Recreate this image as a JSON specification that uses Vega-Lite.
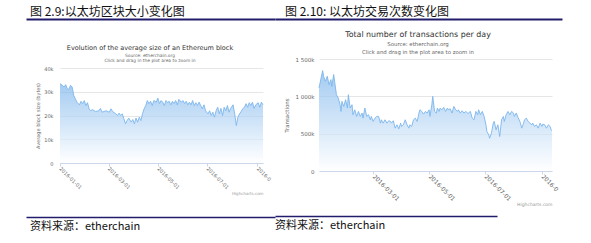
{
  "$schema": "https://vega.github.io/schema/vega-lite/v6.json",
  "background": "white",
  "padding": {"left": 26, "top": 6, "right": 0, "bottom": 0},
  "datasets": {
    "size": [
      {"date": "2016-01-01", "size": 33400}, {"date": "2016-01-04", "size": 32700}, {"date": "2016-01-06", "size": 32000}, {"date": "2016-01-08", "size": 33000},
      {"date": "2016-01-10", "size": 31300}, {"date": "2016-01-12", "size": 31000}, {"date": "2016-01-14", "size": 32700}, {"date": "2016-01-16", "size": 32000},
      {"date": "2016-01-18", "size": 28500}, {"date": "2016-01-20", "size": 27000}, {"date": "2016-01-22", "size": 25600}, {"date": "2016-01-25", "size": 24500},
      {"date": "2016-01-27", "size": 26000}, {"date": "2016-01-29", "size": 25000}, {"date": "2016-01-31", "size": 26300}, {"date": "2016-02-02", "size": 24200},
      {"date": "2016-02-04", "size": 25400}, {"date": "2016-02-06", "size": 22800}, {"date": "2016-02-08", "size": 22000}, {"date": "2016-02-10", "size": 22500},
      {"date": "2016-02-14", "size": 21700}, {"date": "2016-02-18", "size": 22000}, {"date": "2016-02-20", "size": 23000}, {"date": "2016-02-22", "size": 21400},
      {"date": "2016-02-27", "size": 22000}, {"date": "2016-03-02", "size": 21400}, {"date": "2016-03-04", "size": 22800}, {"date": "2016-03-06", "size": 21700},
      {"date": "2016-03-10", "size": 20700}, {"date": "2016-03-12", "size": 20000}, {"date": "2016-03-14", "size": 21000}, {"date": "2016-03-16", "size": 20000},
      {"date": "2016-03-18", "size": 20700}, {"date": "2016-03-20", "size": 18600}, {"date": "2016-03-22", "size": 16500}, {"date": "2016-03-24", "size": 17900},
      {"date": "2016-03-26", "size": 18900}, {"date": "2016-03-29", "size": 17200}, {"date": "2016-03-31", "size": 18300}, {"date": "2016-04-02", "size": 16500},
      {"date": "2016-04-04", "size": 18900}, {"date": "2016-04-06", "size": 17200}, {"date": "2016-04-08", "size": 19300}, {"date": "2016-04-10", "size": 17900},
      {"date": "2016-04-12", "size": 20700}, {"date": "2016-04-14", "size": 22800}, {"date": "2016-04-16", "size": 24200}, {"date": "2016-04-18", "size": 26300},
      {"date": "2016-04-20", "size": 25000}, {"date": "2016-04-22", "size": 26000}, {"date": "2016-04-24", "size": 24200}, {"date": "2016-04-26", "size": 26300},
      {"date": "2016-04-29", "size": 25600}, {"date": "2016-05-01", "size": 27300}, {"date": "2016-05-03", "size": 25000}, {"date": "2016-05-05", "size": 26300},
      {"date": "2016-05-07", "size": 25600}, {"date": "2016-05-09", "size": 24200}, {"date": "2016-05-11", "size": 26300}, {"date": "2016-05-13", "size": 25400},
      {"date": "2016-05-15", "size": 26000}, {"date": "2016-05-17", "size": 24500}, {"date": "2016-05-19", "size": 26000}, {"date": "2016-05-21", "size": 25000},
      {"date": "2016-05-23", "size": 26300}, {"date": "2016-05-25", "size": 24500}, {"date": "2016-05-27", "size": 26800}, {"date": "2016-05-30", "size": 25600},
      {"date": "2016-06-01", "size": 26300}, {"date": "2016-06-03", "size": 25000}, {"date": "2016-06-05", "size": 26000}, {"date": "2016-06-07", "size": 24500},
      {"date": "2016-06-09", "size": 25600}, {"date": "2016-06-11", "size": 24500}, {"date": "2016-06-13", "size": 26300}, {"date": "2016-06-15", "size": 24200},
      {"date": "2016-06-17", "size": 25400}, {"date": "2016-06-19", "size": 24200}, {"date": "2016-06-21", "size": 25600}, {"date": "2016-06-23", "size": 24200},
      {"date": "2016-06-25", "size": 22800}, {"date": "2016-06-27", "size": 24500}, {"date": "2016-06-29", "size": 22000}, {"date": "2016-07-02", "size": 20700},
      {"date": "2016-07-04", "size": 22000}, {"date": "2016-07-06", "size": 20000}, {"date": "2016-07-08", "size": 21400}, {"date": "2016-07-10", "size": 19300},
      {"date": "2016-07-12", "size": 22000}, {"date": "2016-07-14", "size": 23500}, {"date": "2016-07-16", "size": 20700}, {"date": "2016-07-18", "size": 23000},
      {"date": "2016-07-20", "size": 20000}, {"date": "2016-07-22", "size": 23500}, {"date": "2016-07-24", "size": 22000}, {"date": "2016-07-26", "size": 24200},
      {"date": "2016-07-28", "size": 21400}, {"date": "2016-07-30", "size": 23000}, {"date": "2016-08-02", "size": 24500}, {"date": "2016-08-04", "size": 20700},
      {"date": "2016-08-06", "size": 15800}, {"date": "2016-08-08", "size": 19300}, {"date": "2016-08-10", "size": 20700}, {"date": "2016-08-12", "size": 21700},
      {"date": "2016-08-14", "size": 22800}, {"date": "2016-08-16", "size": 23500}, {"date": "2016-08-18", "size": 25000}, {"date": "2016-08-20", "size": 23500},
      {"date": "2016-08-22", "size": 25400}, {"date": "2016-08-24", "size": 24200}, {"date": "2016-08-26", "size": 25600}, {"date": "2016-08-28", "size": 23000},
      {"date": "2016-08-30", "size": 24500}, {"date": "2016-09-02", "size": 25400}, {"date": "2016-09-04", "size": 23500}, {"date": "2016-09-06", "size": 25600},
      {"date": "2016-09-08", "size": 24500}
    ],
    "tx": [
      {"date": "2016-01-02", "tx": 1112000}, {"date": "2016-01-06", "tx": 1345000}, {"date": "2016-01-07", "tx": 1269000}, {"date": "2016-01-09", "tx": 1202000},
      {"date": "2016-01-11", "tx": 1269000}, {"date": "2016-01-13", "tx": 1157000}, {"date": "2016-01-15", "tx": 1224000}, {"date": "2016-01-16", "tx": 1134000},
      {"date": "2016-01-18", "tx": 1291000}, {"date": "2016-01-19", "tx": 1202000}, {"date": "2016-01-21", "tx": 1022000}, {"date": "2016-01-23", "tx": 977000},
      {"date": "2016-01-25", "tx": 888000}, {"date": "2016-01-26", "tx": 798000}, {"date": "2016-01-27", "tx": 933000}, {"date": "2016-01-29", "tx": 865000},
      {"date": "2016-01-31", "tx": 955000}, {"date": "2016-02-02", "tx": 843000}, {"date": "2016-02-03", "tx": 1022000}, {"date": "2016-02-05", "tx": 843000},
      {"date": "2016-02-07", "tx": 888000}, {"date": "2016-02-08", "tx": 753000}, {"date": "2016-02-10", "tx": 820000}, {"date": "2016-02-12", "tx": 731000},
      {"date": "2016-02-14", "tx": 798000}, {"date": "2016-02-16", "tx": 731000}, {"date": "2016-02-18", "tx": 776000}, {"date": "2016-02-19", "tx": 708000},
      {"date": "2016-02-21", "tx": 843000}, {"date": "2016-02-23", "tx": 731000}, {"date": "2016-02-25", "tx": 753000}, {"date": "2016-02-27", "tx": 686000},
      {"date": "2016-02-28", "tx": 731000}, {"date": "2016-03-01", "tx": 664000}, {"date": "2016-03-03", "tx": 708000}, {"date": "2016-03-05", "tx": 731000},
      {"date": "2016-03-07", "tx": 731000}, {"date": "2016-03-09", "tx": 641000}, {"date": "2016-03-10", "tx": 686000}, {"date": "2016-03-12", "tx": 641000},
      {"date": "2016-03-14", "tx": 686000}, {"date": "2016-03-16", "tx": 641000}, {"date": "2016-03-18", "tx": 673000}, {"date": "2016-03-20", "tx": 664000},
      {"date": "2016-03-21", "tx": 641000}, {"date": "2016-03-23", "tx": 673000}, {"date": "2016-03-25", "tx": 574000}, {"date": "2016-03-27", "tx": 619000},
      {"date": "2016-03-29", "tx": 565000}, {"date": "2016-03-31", "tx": 641000}, {"date": "2016-04-01", "tx": 596000}, {"date": "2016-04-03", "tx": 619000},
      {"date": "2016-04-05", "tx": 686000}, {"date": "2016-04-07", "tx": 619000}, {"date": "2016-04-09", "tx": 574000}, {"date": "2016-04-10", "tx": 619000},
      {"date": "2016-04-12", "tx": 596000}, {"date": "2016-04-14", "tx": 686000}, {"date": "2016-04-16", "tx": 708000}, {"date": "2016-04-18", "tx": 664000},
      {"date": "2016-04-20", "tx": 776000}, {"date": "2016-04-21", "tx": 820000}, {"date": "2016-04-23", "tx": 798000}, {"date": "2016-04-25", "tx": 762000},
      {"date": "2016-04-27", "tx": 798000}, {"date": "2016-04-29", "tx": 776000}, {"date": "2016-05-01", "tx": 820000}, {"date": "2016-05-02", "tx": 731000},
      {"date": "2016-05-04", "tx": 888000}, {"date": "2016-05-05", "tx": 1000000}, {"date": "2016-05-07", "tx": 798000}, {"date": "2016-05-09", "tx": 776000},
      {"date": "2016-05-10", "tx": 843000}, {"date": "2016-05-12", "tx": 798000}, {"date": "2016-05-13", "tx": 843000}, {"date": "2016-05-15", "tx": 820000},
      {"date": "2016-05-17", "tx": 852000}, {"date": "2016-05-19", "tx": 798000}, {"date": "2016-05-21", "tx": 843000}, {"date": "2016-05-22", "tx": 820000},
      {"date": "2016-05-24", "tx": 834000}, {"date": "2016-05-26", "tx": 776000}, {"date": "2016-05-28", "tx": 865000}, {"date": "2016-05-30", "tx": 820000},
      {"date": "2016-06-01", "tx": 798000}, {"date": "2016-06-02", "tx": 820000}, {"date": "2016-06-04", "tx": 776000}, {"date": "2016-06-06", "tx": 807000},
      {"date": "2016-06-08", "tx": 776000}, {"date": "2016-06-10", "tx": 798000}, {"date": "2016-06-12", "tx": 776000}, {"date": "2016-06-13", "tx": 776000},
      {"date": "2016-06-15", "tx": 798000}, {"date": "2016-06-17", "tx": 708000}, {"date": "2016-06-19", "tx": 686000}, {"date": "2016-06-21", "tx": 798000},
      {"date": "2016-06-23", "tx": 753000}, {"date": "2016-06-24", "tx": 820000}, {"date": "2016-06-26", "tx": 753000}, {"date": "2016-06-28", "tx": 798000},
      {"date": "2016-06-30", "tx": 731000}, {"date": "2016-07-02", "tx": 619000}, {"date": "2016-07-03", "tx": 529000}, {"date": "2016-07-05", "tx": 484000},
      {"date": "2016-07-06", "tx": 439000}, {"date": "2016-07-08", "tx": 507000}, {"date": "2016-07-10", "tx": 641000}, {"date": "2016-07-11", "tx": 664000},
      {"date": "2016-07-13", "tx": 552000}, {"date": "2016-07-15", "tx": 619000}, {"date": "2016-07-17", "tx": 462000}, {"date": "2016-07-19", "tx": 686000},
      {"date": "2016-07-21", "tx": 731000}, {"date": "2016-07-22", "tx": 664000}, {"date": "2016-07-24", "tx": 753000}, {"date": "2016-07-26", "tx": 798000},
      {"date": "2016-07-28", "tx": 753000}, {"date": "2016-07-30", "tx": 798000}, {"date": "2016-08-01", "tx": 776000}, {"date": "2016-08-02", "tx": 731000},
      {"date": "2016-08-04", "tx": 776000}, {"date": "2016-08-06", "tx": 717000}, {"date": "2016-08-08", "tx": 664000}, {"date": "2016-08-10", "tx": 574000},
      {"date": "2016-08-12", "tx": 641000}, {"date": "2016-08-13", "tx": 686000}, {"date": "2016-08-15", "tx": 708000}, {"date": "2016-08-17", "tx": 664000},
      {"date": "2016-08-19", "tx": 641000}, {"date": "2016-08-21", "tx": 619000}, {"date": "2016-08-22", "tx": 641000}, {"date": "2016-08-24", "tx": 596000},
      {"date": "2016-08-26", "tx": 619000}, {"date": "2016-08-28", "tx": 574000}, {"date": "2016-08-30", "tx": 641000}, {"date": "2016-09-01", "tx": 596000},
      {"date": "2016-09-02", "tx": 628000}, {"date": "2016-09-04", "tx": 619000}, {"date": "2016-09-06", "tx": 574000}, {"date": "2016-09-08", "tx": 619000},
      {"date": "2016-09-10", "tx": 596000}, {"date": "2016-09-11", "tx": 552000}, {"date": "2016-09-12", "tx": 540000}
    ]
  },
  "hconcat": [
    {
      "concat": [
        {
          "data": {"name": "size"},
          "width": 249, "height": 1,
          "mark": {"type": "point", "opacity": 0, "size": 0},
          "encoding": {"x": {"field": "date", "type": "temporal", "axis": {"orient": "top", "position": -34, "labels": false, "ticks": false, "grid": false, "domainColor": "#221d6b", "domainWidth": 2, "title": null}}},
          "title": {"text": "图 2.9:以太坊区块大小变化图", "anchor": "start", "frame": "group", "dx": -30, "offset": 0, "font": "Noto Sans CJK SC", "fontSize": 12, "fontWeight": "normal", "color": "#111111"}
        },
        {
          "concat": [
            {
              "data": {"name": "size"},
              "width": 203, "height": 95,
              "title": {
                "text": "Evolution of the average size of an Ethereum block",
                "subtitle": ["Source: etherchain.org", "Click and drag in the plot area to zoom in"],
                "anchor": "middle", "frame": "group", "dx": -11.5, "offset": 4,
                "font": "DejaVu Sans", "fontSize": 6.5, "fontWeight": "normal", "color": "#333333",
                "subtitleFont": "DejaVu Sans", "subtitleFontSize": 4.4, "subtitleColor": "#666666", "subtitleLineHeight": 4.6, "subtitlePadding": 3
              },
              "mark": {
                "type": "area",
                "line": {"color": "#7cb5ec", "strokeWidth": 0.9},
                "color": {"x1": 0, "y1": 0, "x2": 0, "y2": 1, "gradient": "linear", "stops": [{"offset": 0, "color": "#7cb5ec"}, {"offset": 1, "color": "#ffffff"}]}
              },
              "encoding": {
                "x": {
                  "field": "date", "type": "temporal",
                  "scale": {"type": "utc", "domain": [{"year": 2016, "month": 1, "date": 1, "utc": true}, {"year": 2016, "month": 9, "date": 8, "utc": true}]},
                  "axis": {
                    "values": [{"year": 2016, "month": 1, "date": 1, "utc": true}, {"year": 2016, "month": 3, "date": 1, "utc": true}, {"year": 2016, "month": 5, "date": 1, "utc": true}, {"year": 2016, "month": 7, "date": 1, "utc": true}, {"year": 2016, "month": 9, "date": 1, "utc": true}],
                    "labelExpr": "utcmonth(datum.value) == 8 ? '2016-0' : utcFormat(datum.value, '%Y-%m-%d')",
                    "labelAngle": 45, "labelAlign": "left", "labelBaseline": "middle", "labelFontSize": 5, "labelColor": "#666666", "labelPadding": 1, "labelFont": "DejaVu Sans",
                    "tickSize": 3, "tickColor": "#ccd6eb", "domainColor": "#ccd6eb", "grid": false,
                    "title": "Highcharts.com", "titleFontSize": 4, "titleFont": "DejaVu Sans", "titleFontWeight": "normal", "titleColor": "#999999", "titleAnchor": "end", "titleY": 28, "titleBaseline": "top"
                  }
                },
                "y": {
                  "field": "size", "type": "quantitative",
                  "scale": {"domain": [0, 40000]},
                  "axis": {
                    "values": [0, 10000, 20000, 30000, 40000],
                    "labelExpr": "datum.value == 0 ? '0' : format(datum.value / 1000, 'd') + 'k'",
                    "labelFontSize": 5, "labelColor": "#666666", "labelPadding": 7, "labelFont": "DejaVu Sans",
                    "domain": false, "ticks": false, "grid": true, "gridColor": "#e6e6e6",
                    "title": "Average block size (bytes)", "titleFontSize": 5, "titleFont": "DejaVu Sans", "titleFontWeight": "normal", "titleColor": "#666666", "titlePadding": 3
                  }
                }
              }
            },
            {
              "data": {"name": "size"},
              "width": 249, "height": 1,
              "mark": {"type": "point", "opacity": 0, "size": 0},
              "encoding": {"x": {"field": "date", "type": "temporal", "axis": {"orient": "top", "position": -34, "labels": false, "ticks": false, "grid": false, "domainColor": "#221d6b", "domainWidth": 1.7, "title": null}}},
              "title": {"text": "资料来源：etherchain", "orient": "bottom", "anchor": "start", "frame": "group", "dx": -30, "offset": 3, "font": "Noto Sans CJK SC", "fontSize": 11, "fontWeight": "normal", "color": "#111111"}
            }
          ],
          "columns": 1, "align": "none", "spacing": 22
        }
      ],
      "columns": 1, "align": "none", "spacing": 24
    },
    {
      "concat": [
        {
          "data": {"name": "tx"},
          "width": 287, "height": 1,
          "mark": {"type": "point", "opacity": 0, "size": 0},
          "encoding": {"x": {"field": "date", "type": "temporal", "axis": {"orient": "top", "position": -44, "labels": false, "ticks": false, "grid": false, "domainColor": "#221d6b", "domainWidth": 2, "title": null}}},
          "title": {"text": "图 2.10: 以太坊交易次数变化图", "anchor": "start", "frame": "group", "dx": -34, "offset": 0, "font": "Noto Sans CJK SC", "fontSize": 12, "fontWeight": "normal", "color": "#111111"}
        },
        {
          "concat": [
            {
              "data": {"name": "tx"},
              "width": 233, "height": 112,
              "title": {
                "text": "Total number of transactions per day",
                "subtitle": ["Source: etherchain.org", "Click and drag in the plot area to zoom in"],
                "anchor": "middle", "frame": "group", "dx": -17.5, "offset": 2,
                "font": "DejaVu Sans", "fontSize": 7.9, "fontWeight": "normal", "color": "#333333",
                "subtitleFont": "DejaVu Sans", "subtitleFontSize": 5.4, "subtitleColor": "#666666", "subtitleLineHeight": 8, "subtitlePadding": 3
              },
              "mark": {
                "type": "area",
                "line": {"color": "#7cb5ec", "strokeWidth": 0.9},
                "color": {"x1": 0, "y1": 0, "x2": 0, "y2": 1, "gradient": "linear", "stops": [{"offset": 0, "color": "#7cb5ec"}, {"offset": 1, "color": "#ffffff"}]}
              },
              "encoding": {
                "x": {
                  "field": "date", "type": "temporal",
                  "scale": {"type": "utc", "domain": [{"year": 2016, "month": 1, "date": 2, "utc": true}, {"year": 2016, "month": 9, "date": 12, "utc": true}]},
                  "axis": {
                    "values": [{"year": 2016, "month": 3, "date": 1, "utc": true}, {"year": 2016, "month": 5, "date": 1, "utc": true}, {"year": 2016, "month": 7, "date": 1, "utc": true}, {"year": 2016, "month": 9, "date": 1, "utc": true}],
                    "labelExpr": "utcmonth(datum.value) == 8 ? '2016-0' : utcFormat(datum.value, '%Y-%m-%d')",
                    "labelAngle": 45, "labelAlign": "left", "labelBaseline": "middle", "labelFontSize": 6, "labelColor": "#666666", "labelPadding": 1, "labelFont": "DejaVu Sans",
                    "tickSize": 3, "tickColor": "#ccd6eb", "domainColor": "#ccd6eb", "grid": false,
                    "title": "Highcharts.com", "titleFontSize": 4.5, "titleFont": "DejaVu Sans", "titleFontWeight": "normal", "titleColor": "#999999", "titleAnchor": "end", "titleY": 30, "titleBaseline": "top"
                  }
                },
                "y": {
                  "field": "tx", "type": "quantitative",
                  "scale": {"domain": [0, 1500000]},
                  "axis": {
                    "values": [0, 500000, 1000000, 1500000],
                    "labelExpr": "datum.value == 0 ? '0' : replace(format(datum.value / 1000, ','), ',', ' ') + 'k'",
                    "labelFontSize": 5.5, "labelColor": "#666666", "labelPadding": 5, "labelFont": "DejaVu Sans",
                    "domain": false, "ticks": false, "grid": true, "gridColor": "#e6e6e6",
                    "title": "Transactions", "titleFontSize": 5.5, "titleFont": "DejaVu Sans", "titleFontWeight": "normal", "titleColor": "#666666", "titlePadding": 6
                  }
                }
              }
            },
            {
              "data": {"name": "tx"},
              "width": 222, "height": 1,
              "mark": {"type": "point", "opacity": 0, "size": 0},
              "encoding": {"x": {"field": "date", "type": "temporal", "axis": {"orient": "top", "position": -44, "labels": false, "ticks": false, "grid": false, "domainColor": "#221d6b", "domainWidth": 1.7, "title": null}}},
              "title": {"text": "资料来源：etherchain", "orient": "bottom", "anchor": "start", "frame": "group", "dx": -44, "offset": 3, "font": "Noto Sans CJK SC", "fontSize": 11, "fontWeight": "normal", "color": "#111111"}
            }
          ],
          "columns": 1, "align": "none", "spacing": 10
        }
      ],
      "columns": 1, "align": "none", "spacing": 10
    }
  ],
  "spacing": -34,
  "config": {
    "view": {"stroke": null}
  }
}
